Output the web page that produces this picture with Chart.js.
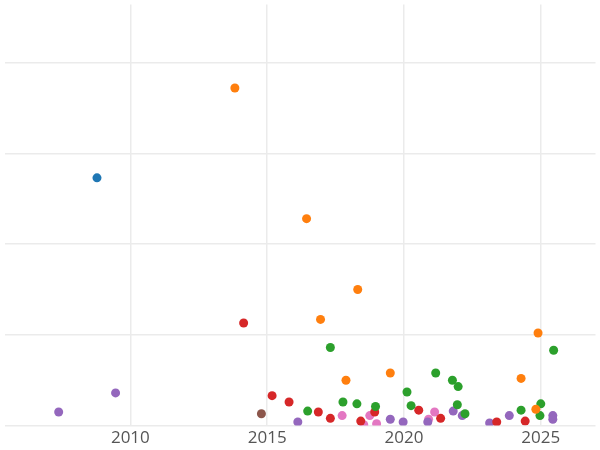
<!DOCTYPE html>
<html>
<head>
<script src="https://cdn.jsdelivr.net/npm/chart.js@4"></script>
<style>body{margin:0;background:#fff}#wrap{width:600px;height:450px}</style>
</head>
<body>
<div id="wrap"><canvas id="c"></canvas></div>
<script>
const xTicks = [2010, 2015, 2020, 2025];
const yTicks = [0, 1, 2, 3, 4];

const bluePts = [[2008.78, 2.73]];
const orangePts = [[2013.82, 3.72], [2016.44, 2.28], [2018.31, 1.50], [2016.95, 1.17], [2017.88, 0.50], [2019.5, 0.58], [2024.9, 1.02], [2024.28, 0.52], [2024.82, 0.18]];
const redPts = [[2014.14, 1.13], [2015.18, 0.33], [2015.8, 0.26], [2016.87, 0.15], [2017.31, 0.08], [2018.42, 0.05], [2018.93, 0.15], [2020.54, 0.17], [2021.34, 0.08], [2023.39, 0.04], [2024.43, 0.05]];
const greenPts = [[2017.31, 0.86], [2016.48, 0.16], [2017.77, 0.26], [2018.28, 0.24], [2018.96, 0.21], [2020.11, 0.37], [2020.26, 0.22], [2021.16, 0.58], [2021.77, 0.50], [2021.98, 0.43], [2021.95, 0.23], [2022.23, 0.13], [2024.28, 0.17], [2025.0, 0.24], [2024.97, 0.11], [2025.47, 0.83]];
const purplePts = [[2007.38, 0.15], [2009.46, 0.36], [2016.12, 0.04], [2019.5, 0.07], [2019.97, 0.04], [2020.87, 0.04], [2021.8, 0.16], [2022.13, 0.11], [2023.13, 0.03], [2023.85, 0.11], [2025.44, 0.11], [2025.44, 0.07]];
const brownPts = [[2014.79, 0.13]];
const pinkPts = [[2017.74, 0.11], [2018.75, 0.11], [2018.53, 0.01], [2019.0, 0.02], [2020.9, 0.07], [2021.12, 0.15]];

const series = [
    [bluePts, '#1f77b4'], [orangePts, '#ff7f0e'], [greenPts, '#2ca02c'], [redPts, '#d62728'],
    [purplePts, '#9467bd'], [brownPts, '#8c564b'], [pinkPts, '#e377c2']
];

new Chart(document.getElementById('c'), {
    type: 'scatter',
    data: {
        datasets: series.map(([pts, col]) => ({
            data: pts.map(p => ({x: p[0], y: p[1]})),
            backgroundColor: col,
            borderWidth: 0,
            pointRadius: 4.5
        }))
    },
    options: {
        responsive: true,
        maintainAspectRatio: false,
        animation: false,
        layout: {padding: {left: -5, right: -5, top: -5, bottom: 0}},
        plugins: {legend: {display: false}, tooltip: {enabled: false}},
        scales: {
            x: {
                type: 'linear', min: 2005.4, max: 2027,
                afterBuildTicks: s => { s.ticks = xTicks.map(v => ({value: v})); },
                grid: {color: '#ebebeb', lineWidth: 1.5, drawTicks: false},
                border: {display: false},
                ticks: {color: '#555', font: {family: 'Open Sans', size: 17}, padding: 2, callback: v => String(v)}
            },
            y: {
                min: 0, max: 4.64,
                afterBuildTicks: s => { s.ticks = yTicks.map(v => ({value: v})); },
                afterFit: s => { s.width = 0; },
                grid: {color: '#ebebeb', lineWidth: 1.5, drawTicks: false},
                border: {display: false},
                ticks: {display: false}
            }
        }
    }
});
</script>
</body>
</html>
